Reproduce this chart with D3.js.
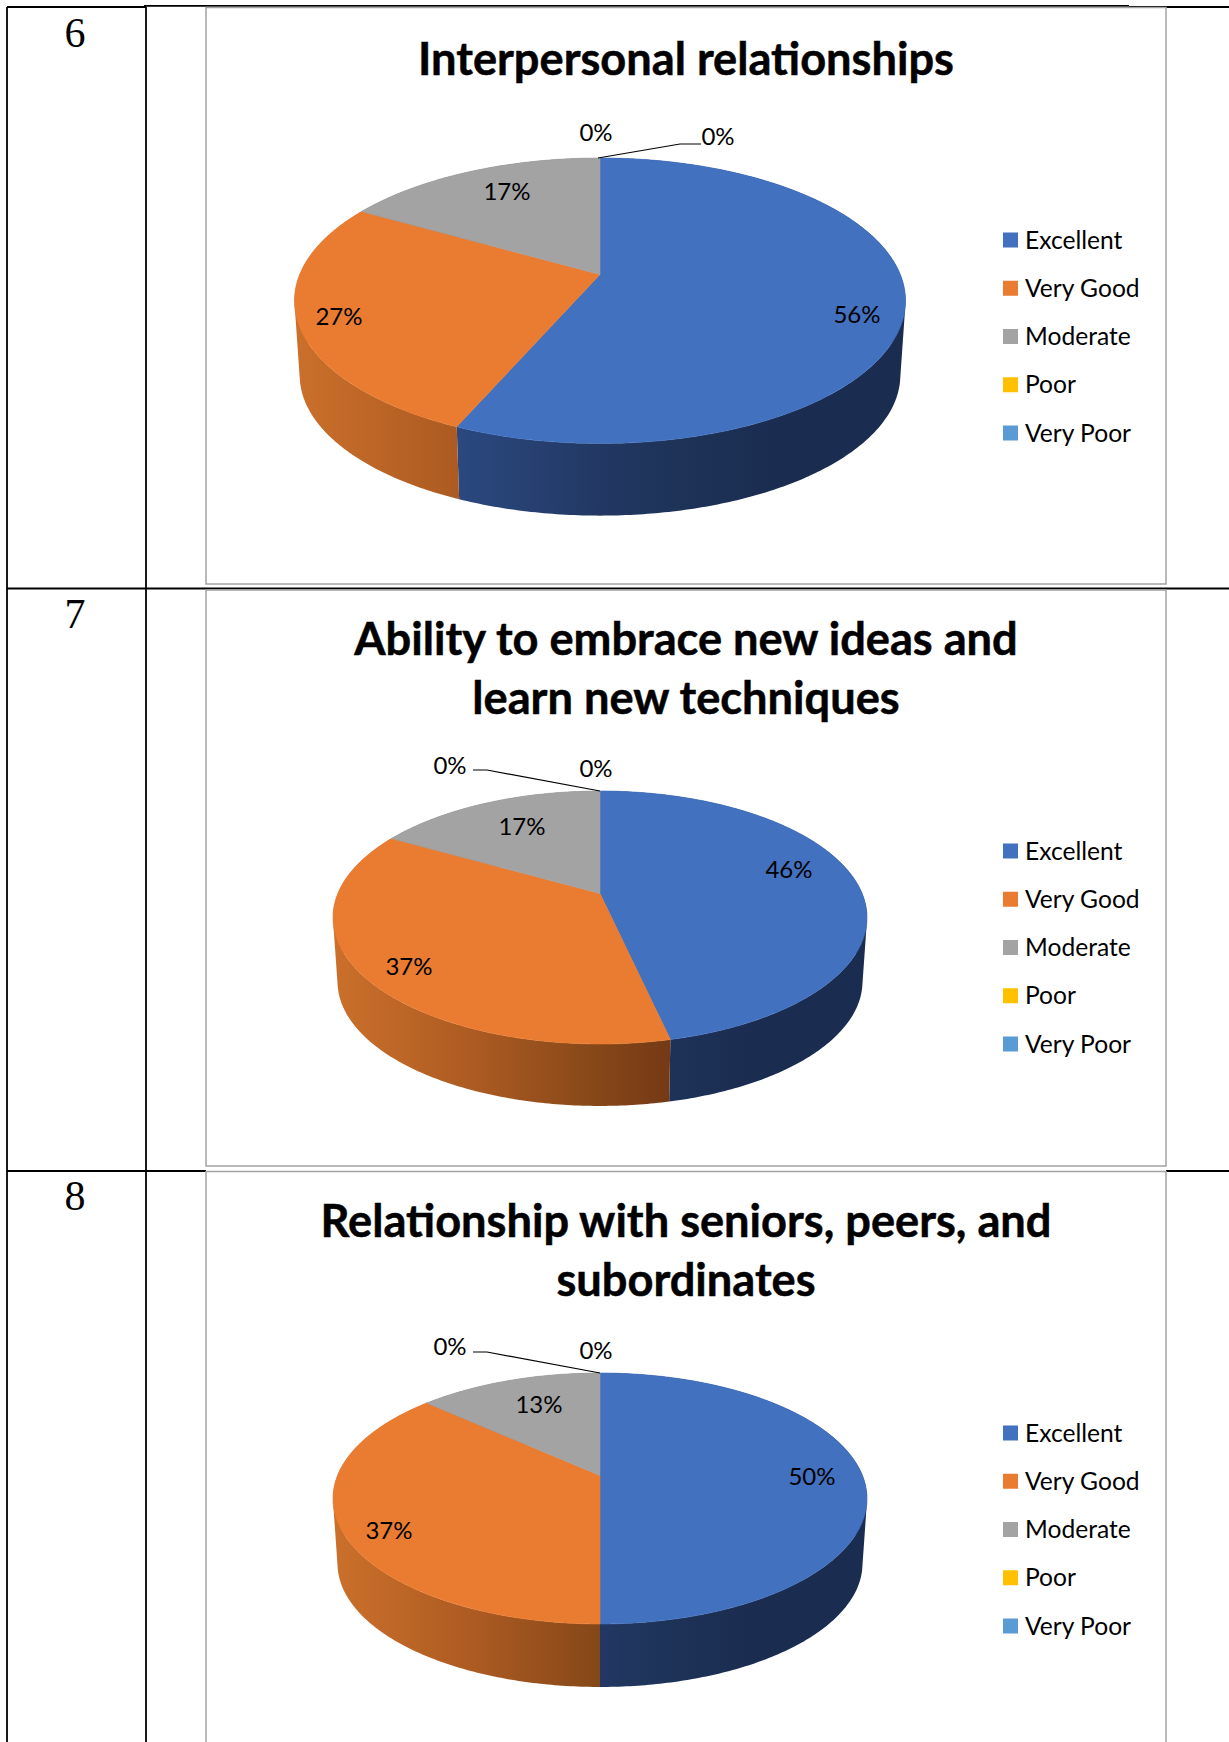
<!DOCTYPE html>
<html><head><meta charset="utf-8">
<script src="https://cdn.jsdelivr.net/npm/d3@7"></script>
<style>html,body{margin:0;padding:0;background:#fff;overflow:hidden}svg{display:block}</style>
</head><body>
<svg id="c" width="1229" height="1742"></svg>
<script>
const categories = ["Excellent","Very Good","Moderate","Poor","Very Poor"];
const colors = ["#4271bf","#ea7c31","#a3a3a3","#ffc000","#5b9bd5"];
const rowNumbers = ["6","7","8"];
const titles = [["Interpersonal relationships"],["Ability to embrace new ideas and","learn new techniques"],["Relationship with seniors, peers, and","subordinates"]];
const seriesInterpersonal = [56.49,26.81,16.7,0,0];
const seriesNewIdeas = [46.49,36.71,16.8,0,0];
const seriesRelationship = [50,36.7,13.3,0,0];
const allSeries = [seriesInterpersonal,seriesNewIdeas,seriesRelationship];

// layout (kept apart from the data)
const W=1229,H=1742;
const layouts = [
 {cx:600,top:158,apex:274.5,front:443.5,rx:305.5,dz:75,frame:[7.5,584],rowNumY:47,titleY:[75],legendY:240,
  labels:[[857,315],[339,317],[507,192],[596,133],[718,137]],leader:[[598,158],[680,144],[701,144]]},
 {cx:600,top:791,apex:893.5,front:1044,rx:267,dz:64.5,frame:[590,1166],rowNumY:628,titleY:[655,714],legendY:851,
  labels:[[789,870],[409,967],[522,827],[596,769],[450,766]],leader:[[600,791],[487,770],[473,770]]},
 {cx:600,top:1373,apex:1475.5,front:1624,rx:267,dz:65.5,frame:[1171.5,1760],rowNumY:1210,titleY:[1237,1296],legendY:1433,
  labels:[[812,1477],[389,1531],[539,1405],[596,1351],[450,1347]],leader:[[600,1373],[487,1352],[473,1352]]}
];

const svg=d3.select("#c");
const defs=svg.append("defs");
const fontSans="Lato, Carlito, 'Open Sans', sans-serif";

// table rules
const rules=svg.append("g").attr("stroke","#000").attr("stroke-width",1.8);
[[7,7,7,H],[146,7,146,H],[7,7,146,7],[144,5.8,1129,5.8],[1129,7,W,7],
 [7,588.5,W,588.5],[7,1171,206,1171],[1166,1171,W,1171]].forEach(r=>
  rules.append("line").attr("x1",r[0]).attr("y1",r[1]).attr("x2",r[2]).attr("y2",r[3]));

layouts.forEach((L,i)=>{
  const g=svg.append("g");
  const values=allSeries[i];
  // row number
  g.append("text").attr("x",75).attr("y",L.rowNumY).attr("text-anchor","middle")
    .style("font-family","'Liberation Serif',serif").style("font-size","42px").text(rowNumbers[i]);
  // frame
  g.append("rect").attr("x",206).attr("y",L.frame[0]).attr("width",960).attr("height",L.frame[1]-L.frame[0])
    .attr("fill","#fff").attr("stroke","#a2a2a2").attr("stroke-width",1.5);
  // perspective
  const back=L.apex-L.top, fr=L.front-L.apex, ratio=fr/back;
  const k=(ratio-1)/(ratio+1), S=back*(1+k), R=L.rx*Math.sqrt(1-k*k);
  const shrink=0.983;
  const project=(a,z)=>{
    const u=Math.sin(a), v=-Math.cos(a), w=1-k*v, s=z?shrink:1;
    return [L.cx+R*s*u/w, L.apex+(z?L.dz:0)+S*s*v/w];
  };
  const pie=d3.pie().sort(null).value(d=>d)(values);
  const line=d3.line();
  const color=d3.scaleOrdinal().domain(categories).range(colors);
  const x0=L.cx-L.rx, x1=L.cx+L.rx;
  // gradients
  const grad=(id,stops)=>{
    const gr=defs.append("linearGradient").attr("id",id).attr("gradientUnits","userSpaceOnUse")
      .attr("x1",x0).attr("x2",x1).attr("y1",0).attr("y2",0);
    stops.forEach(s=>gr.append("stop").attr("offset",s[0]).attr("stop-color",s[1]));
  };
  grad("o"+i,[[0,"#cb702b"],[0.26,"#ad5b22"],[0.5,"#854718"],[0.62,"#763a16"],[1,"#5f2f12"]]);
  grad("b"+i,[[0,"#31548f"],[0.26,"#2b4980"],[0.5,"#223863"],[0.62,"#1e3358"],[0.8,"#1a2c50"],[1,"#1a2c50"]]);
  grad("g"+i,[[0,"#7a7a7a"],[1,"#5a5a5a"]]);
  const sideFill=j=>j===0?`url(#b${i})`:j===1?`url(#o${i})`:`url(#g${i})`;
  // sides
  const sides=g.append("g");
  pie.forEach((p,j)=>{
    if(p.endAngle-p.startAngle<=0) return;
    const n=Math.max(4,Math.ceil((p.endAngle-p.startAngle)/0.012));
    const ang=d3.range(n+1).map(t=>p.startAngle+(p.endAngle-p.startAngle)*t/n);
    let d="";
    d3.pairs(ang).forEach(([a,b])=>{
      const q=[project(a,0),project(b,0),project(b,1),project(a,1)];
      const cross=(q[1][0]-q[0][0])*(q[2][1]-q[0][1])-(q[1][1]-q[0][1])*(q[2][0]-q[0][0]);
      if(cross<0) q.reverse();
      d+=line(q)+"Z";
    });
    sides.append("path").attr("d",d).attr("fill",sideFill(j)).attr("fill-rule","nonzero");
  });
  // top
  const tops=g.append("g");
  pie.forEach((p,j)=>{
    if(p.endAngle-p.startAngle<=0) return;
    const n=Math.ceil((p.endAngle-p.startAngle)/0.01);
    const pts=[[L.cx,L.apex]].concat(d3.range(n+1).map(t=>project(p.startAngle+(p.endAngle-p.startAngle)*t/n,0)));
    tops.append("path").attr("d",line(pts)+"Z").attr("fill",color(categories[j]))
      .attr("stroke",color(categories[j])).attr("stroke-width",0.6);
  });
  // leader
  g.append("path").attr("d",line(L.leader)).attr("fill","none").attr("stroke","#000").attr("stroke-width",1.2);
  // data labels
  g.append("g").selectAll("text").data(values).join("text")
    .attr("x",(d,j)=>L.labels[j][0]).attr("y",(d,j)=>L.labels[j][1]).attr("dy","0.35em")
    .attr("text-anchor","middle").style("font-family",fontSans).style("font-size","24px").attr("fill","#000")
    .text(d=>Math.round(d)+"%");
  // title
  g.append("g").selectAll("text").data(titles[i]).join("text")
    .attr("x",686).attr("y",(d,j)=>L.titleY[j]).attr("text-anchor","middle")
    .style("font-family",fontSans).style("font-weight","700").style("font-size","45.2px")
    .attr("fill","#000").attr("stroke","#000").attr("stroke-width",0.5).text(d=>d);
  // legend
  const legendY=d3.scalePoint().domain(categories).range([L.legendY,L.legendY+193]);
  const lg=g.append("g").selectAll("g").data(categories).join("g")
    .attr("transform",d=>`translate(1003,${legendY(d)})`);
  lg.append("rect").attr("x",0).attr("y",-7.5).attr("width",15).attr("height",15).attr("fill",d=>color(d));
  lg.append("text").attr("x",22).attr("dy","0.35em").style("font-family",fontSans).style("font-size","24.6px").attr("fill","#000").text(d=>d);
});
</script>
</body></html>
